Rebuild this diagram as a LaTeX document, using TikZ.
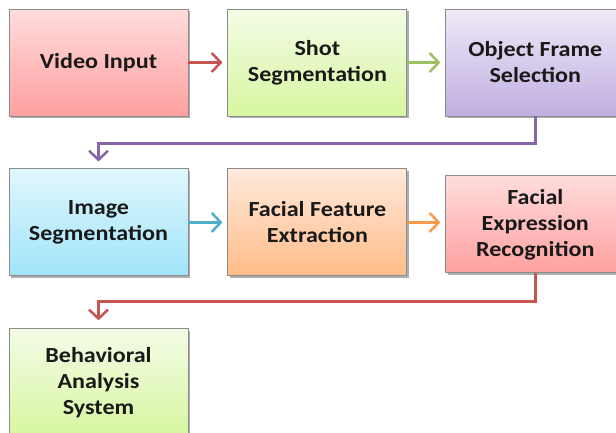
\documentclass[tikz,border=0pt]{standalone}
\usepackage{fontspec}
\setmainfont{Carlito}[FakeStretch=1.12]
\usetikzlibrary{positioning, arrows.meta, shadows}

\definecolor{lineRed}{HTML}{C65552}
\definecolor{lineGreen}{HTML}{9FC05F}
\definecolor{linePurple}{HTML}{8566A8}
\definecolor{lineBlue}{HTML}{4FAFC8}
\definecolor{lineOrange}{HTML}{F89A4E}

\begin{document}
\begin{tikzpicture}[x=1pt, y=1pt, node distance=39pt,
  main node/.style={rectangle, draw=black!45, line width=0.9pt,
    minimum width=179pt, minimum height=107pt, inner sep=0pt, align=center,
    text=black!90, font=\fontsize{21.5}{26}\selectfont\bfseries,
    drop shadow={shadow xshift=2pt, shadow yshift=-2pt, opacity=0.45, fill=black!70}},
  pinkbox/.style={top color={rgb,255:red,255;green,220;blue,220}, bottom color={rgb,255:red,255;green,160;blue,160}},
  limebox/.style={top color={rgb,255:red,243;green,252;blue,230}, bottom color={rgb,255:red,215;green,246;blue,160}},
  lilacbox/.style={top color={rgb,255:red,238;green,233;blue,247}, bottom color={rgb,255:red,192;green,174;blue,225}},
  skybox/.style={top color={rgb,255:red,224;green,247;blue,253}, bottom color={rgb,255:red,160;green,228;blue,250}},
  peachbox/.style={top color={rgb,255:red,255;green,233;blue,220}, bottom color={rgb,255:red,255;green,188;blue,136}},
  flow/.style={line width=2.5pt, -{Straight Barb[length=9pt, width=19pt]}}]

\useasboundingbox (0,0) rectangle (616,-432);

\node[main node, pinkbox] (vid) at (98.5,-62.5) {Video Input};
\node[main node, limebox] (shot) [right=of vid] {Shot\\Segmentation};
\node[main node, lilacbox] (sel) [right=38pt of shot] {Object Frame\\Selection};
\node[main node, skybox] (img) [below=52pt of vid] {Image\\Segmentation};
\node[main node, peachbox] (feat) [right=of img] {Facial Feature\\Extraction};
\node[main node, pinkbox, minimum height=97pt, yshift=-2pt] (rec) [right=38pt of feat] {Facial\\Expression\\Recognition};
\node[main node, limebox] (beh) [below=52pt of img] {Behavioral\\Analysis\\System};

\path[flow, shorten >=5pt]
(vid) edge[lineRed] (shot)
(shot) edge[lineGreen] (sel)
(img) edge[lineBlue] (feat)
(feat) edge[lineOrange] (rec.west |- feat)
;

\draw[flow, linePurple, shorten >=7pt] (sel.south) -- ++(0,-27) -| (img.north);
\draw[flow, lineRed, shorten >=8pt] (rec.south) -- ++(0,-28) -| (beh.north);

\end{tikzpicture}
\end{document}
